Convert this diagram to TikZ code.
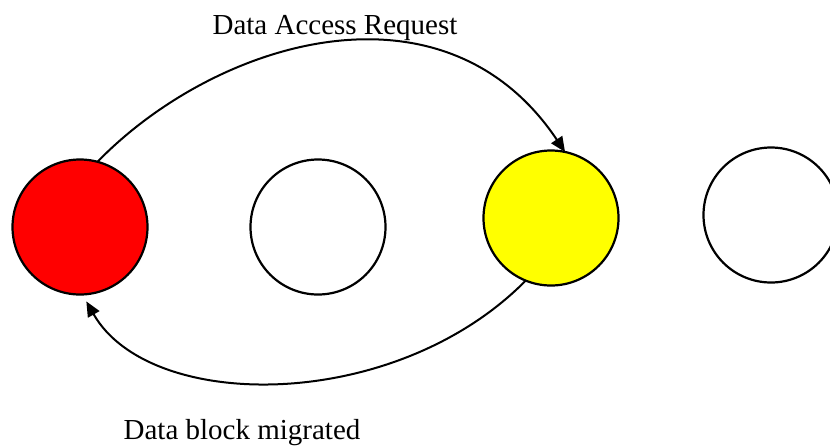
\documentclass[tikz,border=0pt]{standalone}
\usepackage{fontspec}
\setmainfont{Liberation Serif}
\usetikzlibrary{arrows.meta}
\definecolor{siteyellow}{RGB}{255,255,0}
\definecolor{sitered}{RGB}{255,0,0}
\begin{document}
\begin{tikzpicture}[x=1pt,y=-1pt,
  site/.style={circle,draw=black,line width=2.2pt,minimum size=135pt,inner sep=0pt,outer sep=0pt},
  flow/.style={line width=2pt,-{Triangle[length=15pt,width=13pt]}},
  caption/.style={anchor=base,font=\fontsize{29}{34}\selectfont,inner sep=0pt}]
  \useasboundingbox (0,0) rectangle (830,445);
  \clip (0,0) rectangle (830,445);
  % data sites
  \node[site,fill=sitered]    (red)    at (80,227)  {};
  \node[site,fill=white]      (mid)    at (318,227) {};
  \node[site,fill=siteyellow] (yellow) at (551,218) {};
  \node[site,fill=white]      (far)    at (771,215) {};
  % request and migration paths
  \draw[flow] (red.75) .. controls (216,40) and (444,-29) .. (yellow.78);
  \draw[flow,shorten >=8pt] (yellow.248) .. controls (395,413) and (150,413) .. (red.272);
  % labels
  \node[caption] (req) at (335,34)  {Data Access Request};
  \node[caption] (mig) at (242,439) {Data block migrated};
\end{tikzpicture}
\end{document}
